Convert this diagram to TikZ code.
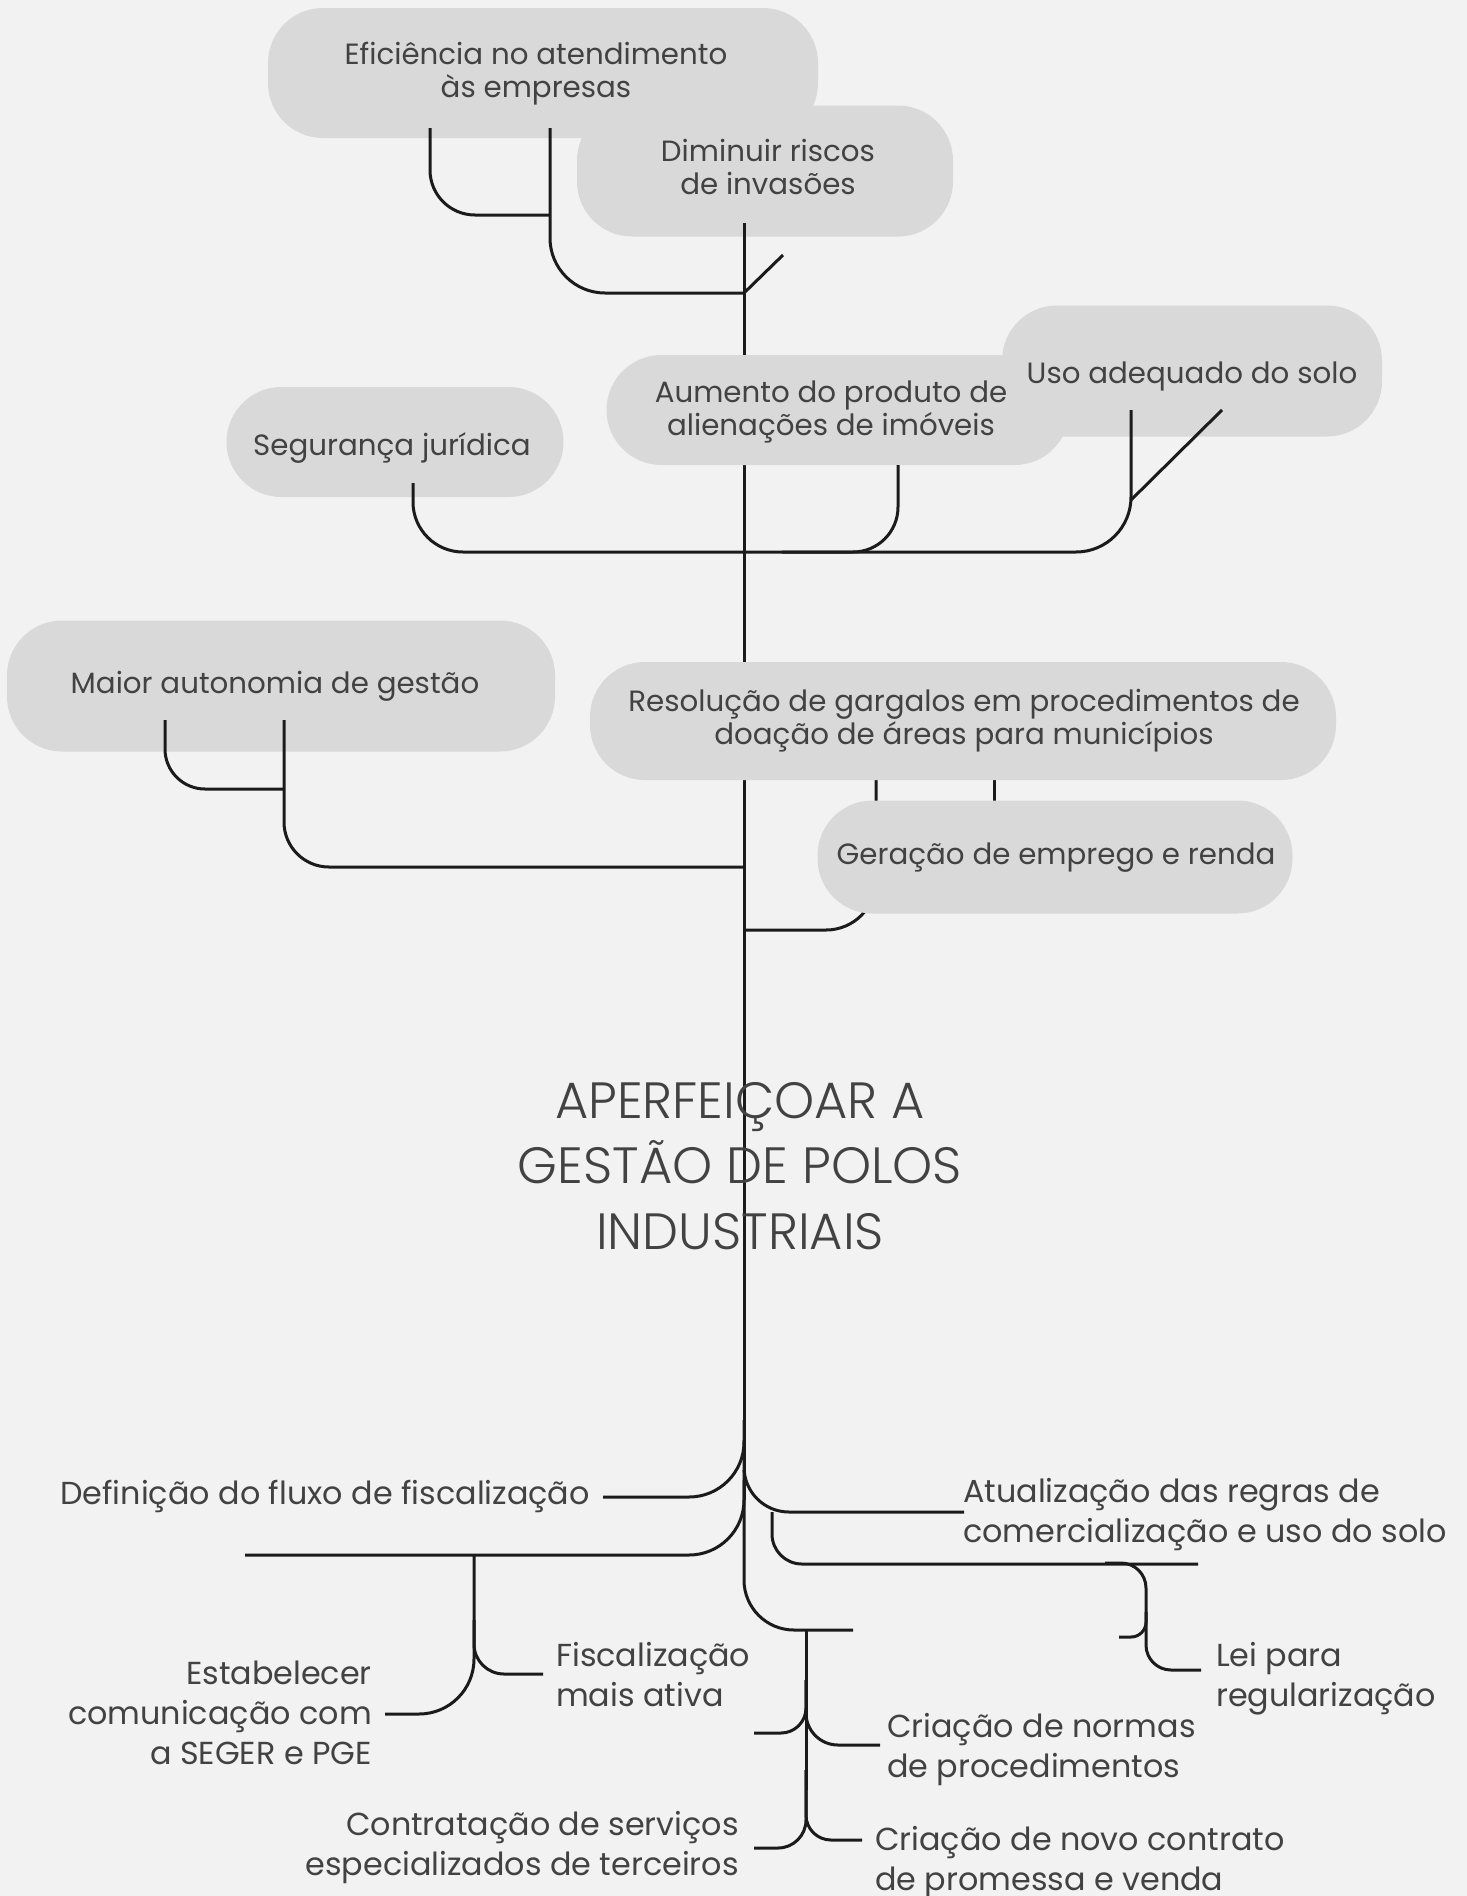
\documentclass[tikz,border=0pt]{standalone}
\usepackage{fontspec}
\setmainfont{Poppins}
\newfontfamily\titlefont{Poppins Light}
\definecolor{bgc}{HTML}{F1F2F1}
\definecolor{bubblefill}{HTML}{D9D9D9}
\definecolor{txt}{HTML}{424242}
\definecolor{linec}{HTML}{1B1B1B}
\begin{document}
\begin{tikzpicture}[x=1pt,y=-1pt,
  bubble/.style={rectangle, rounded corners=55pt, fill=bubblefill, inner sep=0pt},
  btext/.style={text=txt, align=center, font=\fontsize{29.3}{33}\selectfont, inner sep=0pt},
  conn/.style={draw=linec, line width=3pt},
  lbl/.style={text=txt, font=\fontsize{31.8}{40}\selectfont, inner sep=0pt}]
\useasboundingbox (0,0) rectangle (1467,1896);
\fill[bgc] (0,0) rectangle (1467,1896);

% ---- trunk and connectors behind bubbles
\coordinate (trTop) at (744,223);
\coordinate (trBot) at (744,1500);
\draw[conn] (trTop) -- (trBot);
\coordinate (resA) at (876,780);
\coordinate (resJ) at (744,930);
\draw[conn, rounded corners=50pt] (resA) |- (resJ);
\coordinate (resB) at (994,780);
\coordinate (gerB) at (994,802);
\draw[conn] (resB) -- (gerB);

% ---- bubbles
\node[bubble, minimum width=550pt, minimum height=130pt] (eff) at (543,73) {};
\node[bubble, minimum width=376pt, minimum height=131pt] (dim) at (765,171) {};
\node[bubble, minimum width=337pt, minimum height=110pt] (seg) at (395,442) {};
\node[bubble, minimum width=463pt, minimum height=110pt] (aum) at (838,410) {};
\node[bubble, minimum width=380pt, minimum height=131pt] (uso) at (1192,371) {};
\node[bubble, minimum width=548pt, minimum height=131pt] (mai) at (281,686) {};
\node[bubble, minimum width=746pt, minimum height=118pt] (res) at (963,721) {};
\node[bubble, minimum width=475pt, minimum height=113pt] (ger) at (1055,857) {};

% ---- bubble texts
\node[btext] (effT) at (536,74) {Eficiência no atendimento\\às empresas};
\node[btext] (dimT) at (768,167) {Diminuir riscos\\de invasões};
\node[btext] (segT) at (392,448) {Segurança jurídica};
\node[btext] (aumT) at (831,412) {Aumento do produto de\\alienações de imóveis};
\node[btext] (usoT) at (1192,376) {Uso adequado do solo};
\node[btext] (maiT) at (275,686) {Maior autonomia de gestão};
\node[btext] (resT) at (964,721) {Resolução de gargalos em procedimentos de\\doação de áreas para municípios};
\node[btext] (gerT) at (1056,858) {Geração de emprego e renda};

% ---- connectors over bubbles
\coordinate (trTopB) at (744,293);
\draw[conn] (trTop) -- (trTopB);
\coordinate (effA) at (430,128);
\coordinate (effAj) at (550,215);
\draw[conn, rounded corners=45pt] (effA) |- (effAj);
\coordinate (effB) at (550,128);
\draw[conn, rounded corners=55pt] (effB) |- (trTopB);
\coordinate (diag) at (783,255);
\draw[conn] (trTopB) -- (diag);

\coordinate (segA) at (413,483);
\coordinate (jSeg) at (744,552);
\draw[conn, rounded corners=50pt] (segA) |- (jSeg);
\coordinate (aumA) at (898,465);
\draw[conn, rounded corners=45pt] (aumA) |- (jSeg);
\coordinate (usoA) at (1131,410);
\coordinate (usoJ) at (782,552);
\draw[conn, rounded corners=55pt] (usoA) |- (usoJ);
\coordinate (usoD1) at (1131,500);
\coordinate (usoD2) at (1222,410);
\draw[conn] (usoD1) -- (usoD2);

\coordinate (maiA) at (165,720);
\coordinate (maiAj) at (284,789);
\draw[conn, rounded corners=40pt] (maiA) |- (maiAj);
\coordinate (maiB) at (284,720);
\coordinate (jMai) at (744,867);
\draw[conn, rounded corners=45pt] (maiB) |- (jMai);

% ---- title
\node[font=\titlefont\fontsize{51}{65.5}\selectfont, text=txt, align=center, inner sep=0pt] (title) at (740,1166) {APERFEIÇOAR A\\GESTÃO DE POLOS\\INDUSTRIAIS};

% ---- bottom branches
\coordinate (bDef0) at (744,1420);
\coordinate (bDef) at (603,1497);
\draw[conn, rounded corners=55pt] (bDef0) |- (bDef);
\coordinate (bL20) at (744,1470);
\coordinate (bL2) at (245,1555);
\draw[conn, rounded corners=55pt] (bL20) |- (bL2);
\coordinate (bAt0) at (744,1440);
\coordinate (bAt) at (964,1512);
\draw[conn, rounded corners=45pt] (bAt0) |- (bAt);
\coordinate (bR20) at (772,1512);
\coordinate (bR2) at (1198,1564);
\draw[conn, rounded corners=30pt] (bR20) |- (bR2);
\coordinate (bC30) at (744,1480);
\coordinate (bC3) at (853,1630);
\draw[conn, rounded corners=50pt] (bC30) |- (bC3);

% Lei
\coordinate (lei0) at (1105,1563);
\coordinate (leiV) at (1146,1670);
\coordinate (lei) at (1201,1670);
\draw[conn, rounded corners=25pt] (lei0) -| (leiV) -- (lei);
\coordinate (leiS0) at (1146,1612);
\coordinate (leiS) at (1119,1637);
\draw[conn, rounded corners=15pt] (leiS0) |- (leiS);

% left group
\coordinate (lgTop) at (474,1555);
\coordinate (fisc) at (543,1674);
\draw[conn, rounded corners=30pt] (lgTop) |- (fisc);
\coordinate (est0) at (474,1620);
\coordinate (est) at (385,1714);
\draw[conn, rounded corners=55pt] (est0) |- (est);

% middle group
\coordinate (mgTop) at (806,1630);
\coordinate (mgBot) at (806,1790);
\draw[conn] (mgTop) -- (mgBot);
\coordinate (mgL10) at (806,1680);
\coordinate (mgL1) at (754,1733);
\draw[conn, rounded corners=25pt] (mgL10) |- (mgL1);
\coordinate (mgR1) at (880,1745);
\draw[conn, rounded corners=32pt] (mgL10) |- (mgR1);
\coordinate (mgL20) at (806,1770);
\coordinate (mgL2) at (754,1848);
\draw[conn, rounded corners=28pt] (mgL20) |- (mgL2);
\coordinate (mgR2) at (862,1840);
\draw[conn, rounded corners=25pt] (mgL20) |- (mgR2);

% ---- labels
\node[lbl, anchor=east, align=right] (lDef) at (590,1496) {Definição do fluxo de fiscalização};
\node[lbl, anchor=west, align=left] (lAt) at (963,1515) {Atualização das regras de\\comercialização e uso do solo};
\node[lbl, anchor=east, align=right] (lEst) at (372,1713) {Estabelecer\\comunicação com\\a SEGER e PGE};
\node[lbl, anchor=west, align=left] (lFis) at (556,1675) {Fiscalização\\mais ativa};
\node[lbl, anchor=west, align=left] (lLei) at (1216,1679) {Lei para\\regularização};
\node[lbl, anchor=west, align=left] (lNor) at (887,1750) {Criação de normas\\de procedimentos};
\node[lbl, anchor=east, align=right] (lCon) at (739,1848) {Contratação de serviços\\especializados de terceiros};
\node[lbl, anchor=west, align=left] (lNov) at (875,1863) {Criação de novo contrato\\de promessa e venda};
\end{tikzpicture}
\end{document}
